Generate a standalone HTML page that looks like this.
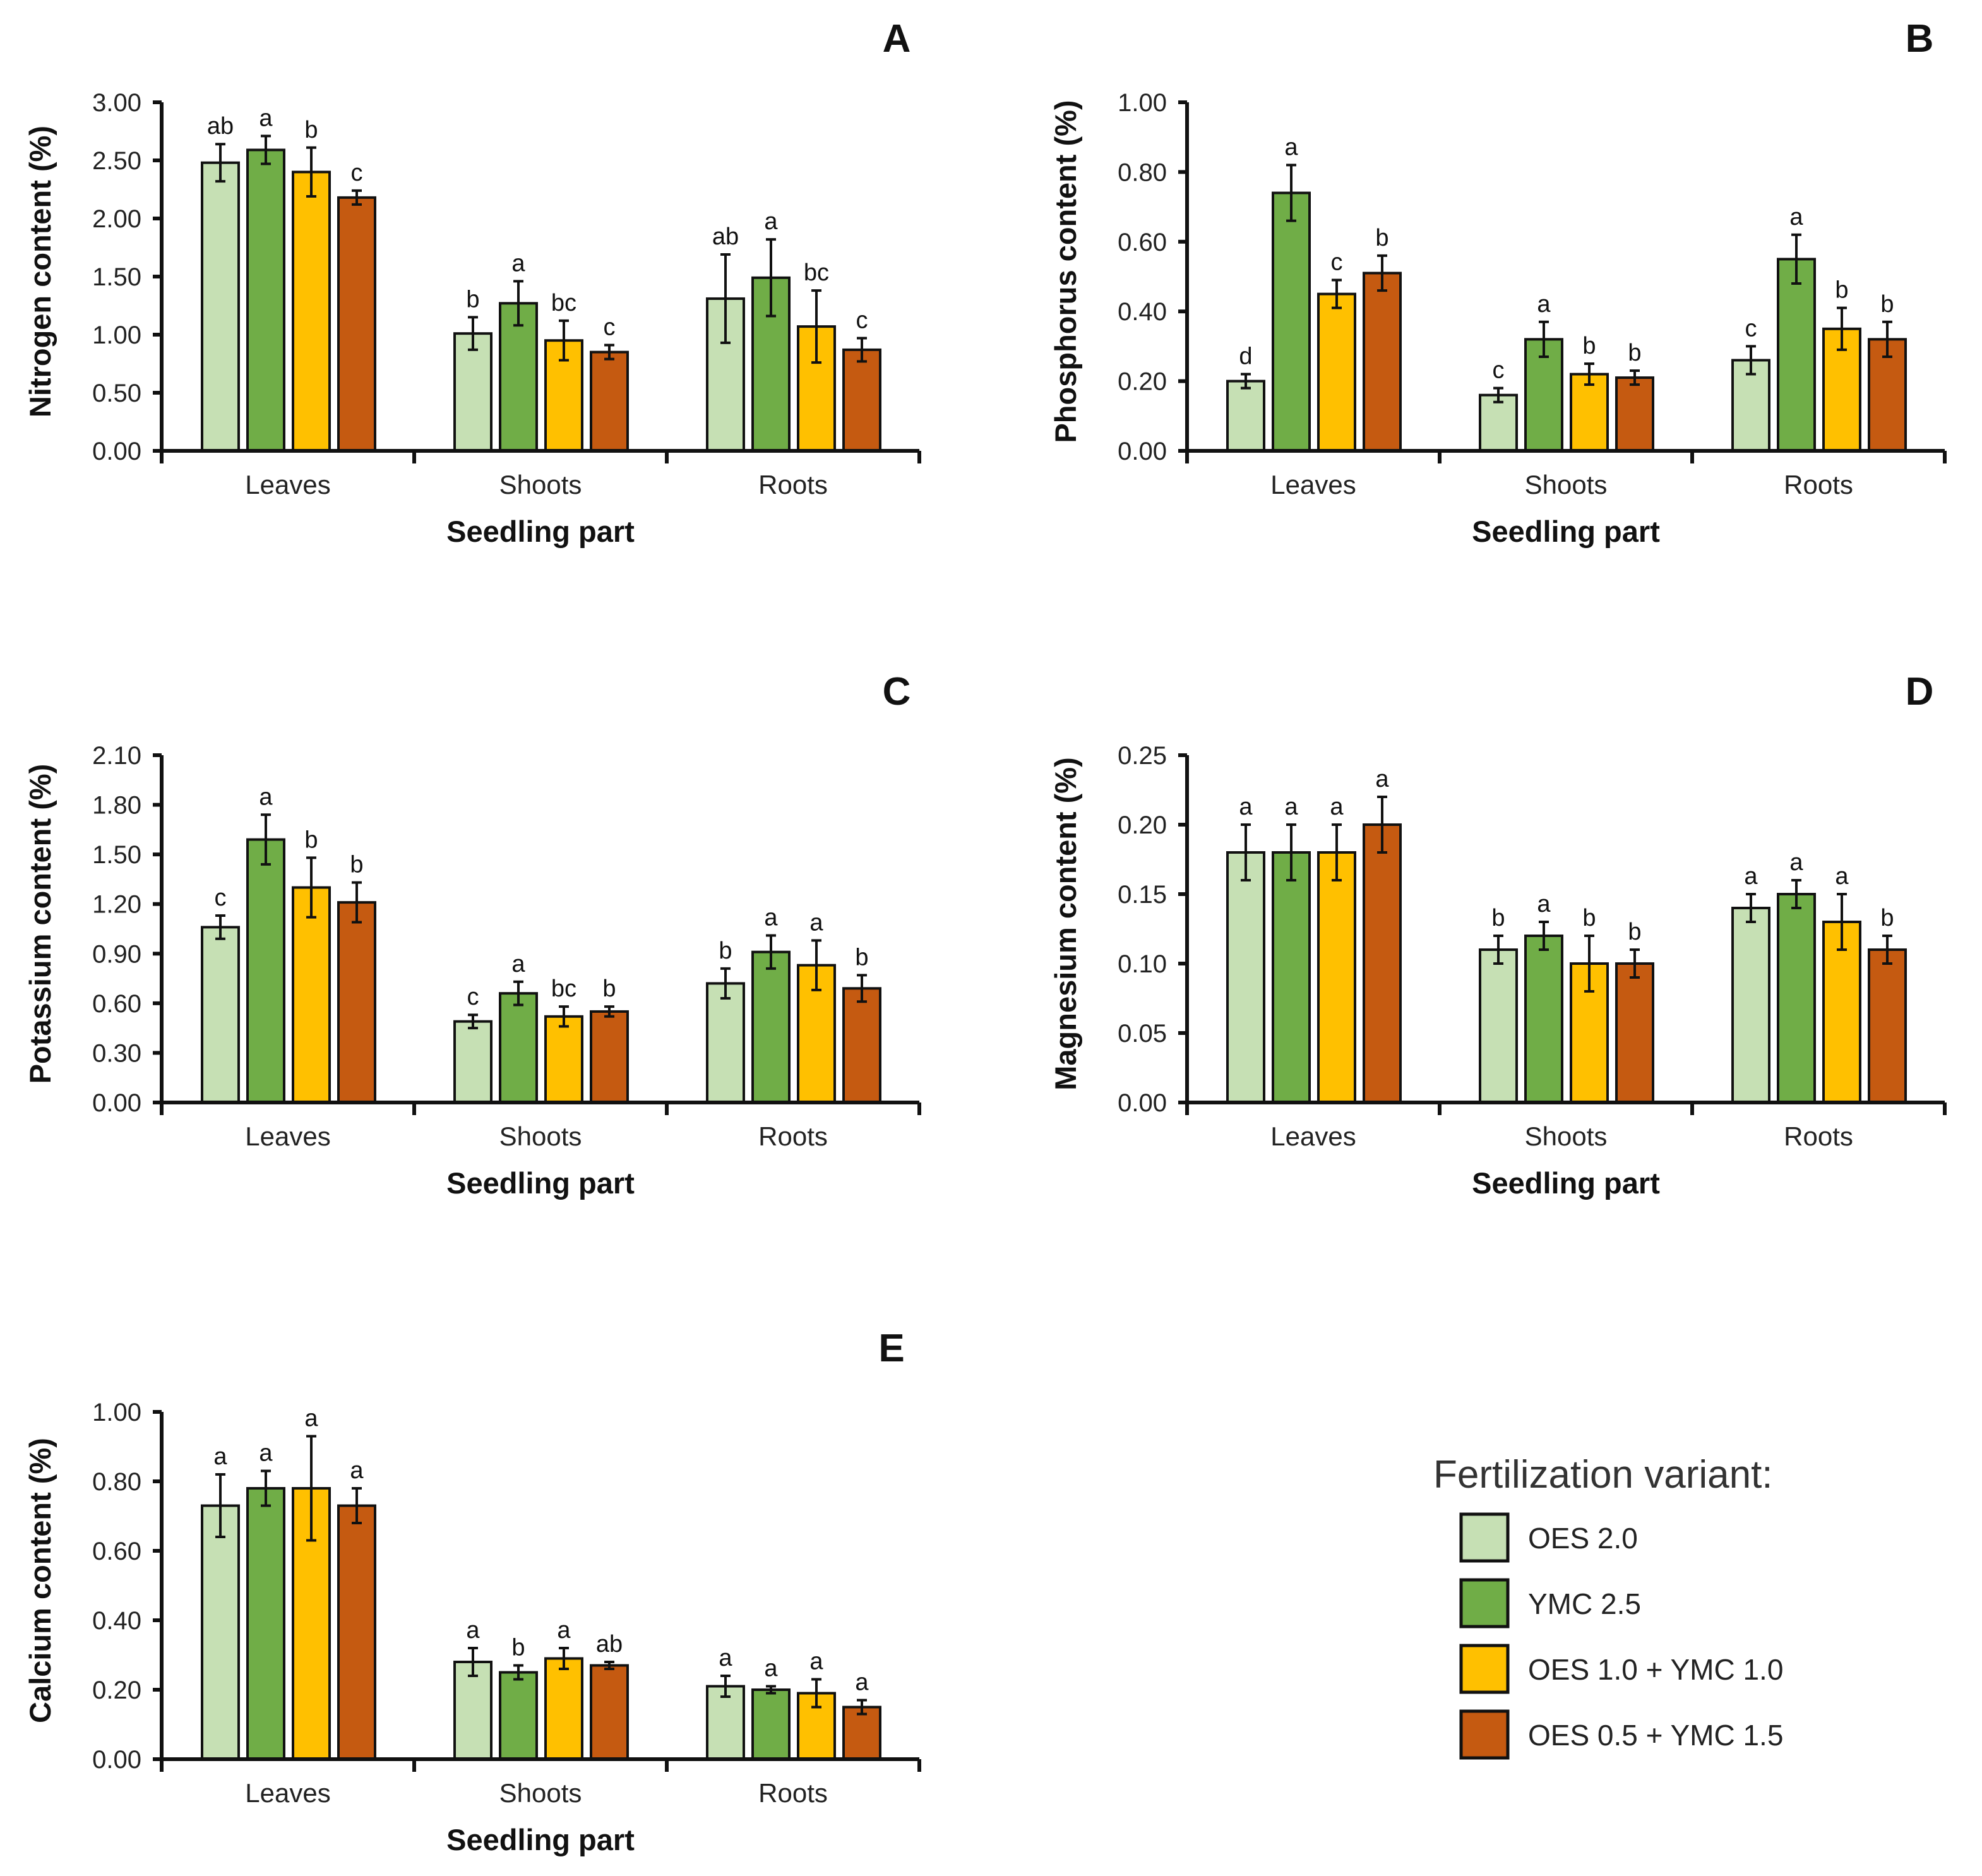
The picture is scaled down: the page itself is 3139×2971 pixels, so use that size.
<!DOCTYPE html>
<html><head><meta charset="utf-8"><style>
html,body{margin:0;padding:0;background:#fff;}
svg{display:block;font-family:"Liberation Sans",Arial,sans-serif;}
</style></head><body>
<svg id="fig" width="3139" height="2971" viewBox="0 0 1569.5 1485.5" xmlns="http://www.w3.org/2000/svg">
<rect width="1569.5" height="1485.5" fill="#fff"/>
<g id="legend">
<text x="1135" y="1178" font-size="31" fill="#333">Fertilization variant:</text>
</g>
</svg>
<script>
const categories = ["Leaves","Shoots","Roots"];
const seriesNames = ["OES 2.0","YMC 2.5","OES 1.0 + YMC 1.0","OES 0.5 + YMC 1.5"];
const colors = ["#c6e0b4","#70ad47","#ffc000","#c55a11"];

const nValues = [[2.48,2.59,2.40,2.18],[1.01,1.27,0.95,0.85],[1.31,1.49,1.07,0.87]];
const nErrors = [[0.16,0.12,0.21,0.06],[0.14,0.19,0.17,0.06],[0.38,0.33,0.31,0.10]];
const nLetters = [["ab","a","b","c"],["b","a","bc","c"],["ab","a","bc","c"]];
const nTicks = ["0.00","0.50","1.00","1.50","2.00","2.50","3.00"];

const pValues = [[0.20,0.74,0.45,0.51],[0.16,0.32,0.22,0.21],[0.26,0.55,0.35,0.32]];
const pErrors = [[0.02,0.08,0.04,0.05],[0.02,0.05,0.03,0.02],[0.04,0.07,0.06,0.05]];
const pLetters = [["d","a","c","b"],["c","a","b","b"],["c","a","b","b"]];
const pTicks = ["0.00","0.20","0.40","0.60","0.80","1.00"];

const kValues = [[1.06,1.59,1.30,1.21],[0.49,0.66,0.52,0.55],[0.72,0.91,0.83,0.69]];
const kErrors = [[0.07,0.15,0.18,0.12],[0.04,0.07,0.06,0.03],[0.09,0.10,0.15,0.08]];
const kLetters = [["c","a","b","b"],["c","a","bc","b"],["b","a","a","b"]];
const kTicks = ["0.00","0.30","0.60","0.90","1.20","1.50","1.80","2.10"];

const mgValues = [[0.18,0.18,0.18,0.20],[0.11,0.12,0.10,0.10],[0.14,0.15,0.13,0.11]];
const mgErrors = [[0.02,0.02,0.02,0.02],[0.01,0.01,0.02,0.01],[0.01,0.01,0.02,0.01]];
const mgLetters = [["a","a","a","a"],["b","a","b","b"],["a","a","a","b"]];
const mgTicks = ["0.00","0.05","0.10","0.15","0.20","0.25"];

const caValues = [[0.73,0.78,0.78,0.73],[0.28,0.25,0.29,0.27],[0.21,0.20,0.19,0.15]];
const caErrors = [[0.09,0.05,0.15,0.05],[0.04,0.02,0.03,0.01],[0.03,0.01,0.04,0.02]];
const caLetters = [["a","a","a","a"],["a","b","a","ab"],["a","a","a","a"]];
const caTicks = ["0.00","0.20","0.40","0.60","0.80","1.00"];

const NS="http://www.w3.org/2000/svg";
const svg=document.getElementById('fig');
function el(tag,attrs,parent){const e=document.createElementNS(NS,tag);for(const k in attrs)e.setAttribute(k,attrs[k]);(parent||svg).appendChild(e);return e;}

function panel(id,letter,title,x0,yTop,yBot,ticks,values,errors,letters,letterX){
  const g=el('g',{});
  
  
  const max=parseFloat(ticks[ticks.length-1]);
  const y=v=>yBot-(v/max)*(yBot-yTop);
  const gw=200;
  categories.forEach((c,ci)=>{
    values[ci].forEach((v,si)=>{
      const bx=x0+ci*gw+32+si*36;
      const r=el('rect',{x:bx,y:y(v),width:29,height:yBot-y(v),fill:colors[si],stroke:'#111','stroke-width':2},g);
      
      
      const cx=bx+14.5,e=errors[ci][si];
      const eb=el('path',{d:`M${cx},${y(v+e)}V${y(v-e)}M${cx-4},${y(v+e)}H${cx+4}M${cx-4},${y(v-e)}H${cx+4}`,stroke:'#111','stroke-width':2,fill:'none'},g);
      
      
      const t=el('text',{x:cx,y:y(v+e)-8,'font-size':19,'text-anchor':'middle',fill:'#111'},g);
      t.textContent=letters[ci][si];
      
      
    });
    const cl=el('text',{x:x0+ci*gw+100,y:yBot+34,'font-size':21,'text-anchor':'middle',fill:'#222'},g);
    cl.textContent=c;
    
    
  });
  const ax=el('path',{d:`M${x0},${yTop}V${yBot}M${x0},${yBot}H${x0+600}`,stroke:'#111','stroke-width':3,fill:'none'},g);
  
  
  for(let i=0;i<=3;i++){el('line',{x1:x0+i*gw,x2:x0+i*gw,y1:yBot,y2:yBot+10,stroke:'#111','stroke-width':3},g);}
  ticks.forEach(tk=>{
    const v=parseFloat(tk),yy=y(v);
    el('line',{x1:x0-7,x2:x0,y1:yy,y2:yy,stroke:'#111','stroke-width':3},g);
    const t=el('text',{x:x0-16,y:yy+7,'font-size':20,'text-anchor':'end',fill:'#222'},g);
    t.textContent=tk;
    
    
  });
  const yt=el('text',{x:0,y:0,'font-size':23.5,'font-weight':'bold','text-anchor':'middle',fill:'#111',transform:`translate(${x0-88},${(yTop+yBot)/2-4}) rotate(-90)`},g);
  yt.textContent=title;
  
  
  const xt=el('text',{x:x0+300,y:yBot+72,'font-size':23.5,'font-weight':'bold','text-anchor':'middle',fill:'#111'},g);
  xt.textContent='Seedling part';
  
  
  const pl=el('text',{x:letterX,y:yTop-40,'font-size':31,'font-weight':'bold','text-anchor':'middle',fill:'#111'},g);
  pl.textContent=letter;
  
  
}
panel('a','A','Nitrogen content (%)',128,81,357,nTicks,nValues,nErrors,nLetters,710);
panel('b','B','Phosphorus content (%)',940,81,357,pTicks,pValues,pErrors,pLetters,1520);
panel('c','C','Potassium content (%)',128,598,873,kTicks,kValues,kErrors,kLetters,710);
panel('d','D','Magnesium content (%)',940,598,873,mgTicks,mgValues,mgErrors,mgLetters,1520);
panel('e','E','Calcium content (%)',128,1118,1393,caTicks,caValues,caErrors,caLetters,706);

const lg=document.getElementById('legend');
seriesNames.forEach((n,i)=>{
  const yy=1199+i*52;
  const r=el('rect',{x:1157,y:yy,width:37,height:37,fill:colors[i],stroke:'#111','stroke-width':2.5},lg);
  
  
  const t=el('text',{x:1210,y:yy+27,'font-size':23,fill:'#222'},lg);
  t.textContent=n;
  
  
});
</script>
</body></html>
